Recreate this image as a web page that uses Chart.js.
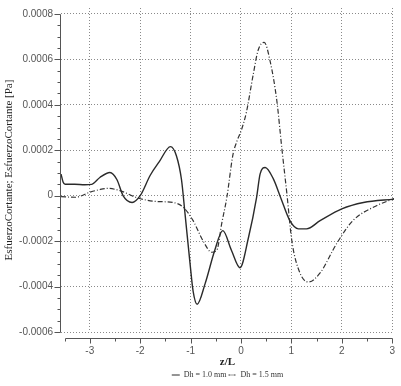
<!DOCTYPE html>
<html>
<head>
<meta charset="utf-8">
<script src="https://cdn.jsdelivr.net/npm/chart.js@4"></script>
<style>
  html, body { margin: 0; padding: 0; background: #ffffff; }
  #wrap { width: 401px; height: 386px; }
</style>
</head>
<body>
<div id="wrap"><canvas id="c" width="401" height="386"></canvas></div>
<script>
// ---- data ----
const solidLabel = 'Dh = 1.0 mm';
const dashedLabel = 'Dh = 1.5 mm';

const solidZ = [-3.57, -3.53, -3.49, -3.3, -3.1, -2.96, -2.8, -2.6, -2.46, -2.34, -2.16, -2.0, -1.8, -1.62, -1.4, -1.28, -1.18, -1.11, -1.01, -0.95, -0.87, -0.71, -0.52, -0.36, -0.19, -0.02, 0.15, 0.31, 0.38, 0.48, 0.64, 0.79, 0.97, 1.14, 1.30, 1.57, 2.0, 2.43, 3.04];
const solidVals = [0.000095, 0.00006, 0.00005, 0.00005, 0.000048, 0.00005, 0.00008, 0.000102, 0.00007, 0.0, -0.00003, 0.0, 0.00009, 0.00015, 0.000216, 0.000175, 0.00007, -0.00008, -0.0003, -0.00042, -0.000478, -0.000386, -0.00024, -0.000154, -0.00024, -0.000317, -0.000183, -0.000007, 0.000096, 0.000124, 0.000075, -0.00001, -0.00011, -0.000146, -0.000146, -0.00011, -0.000058, -0.00003, -0.000015];

const dashedZ = [-3.57, -3.29, -3.0, -2.8, -2.64, -2.4, -2.06, -1.71, -1.35, -1.15, -0.95, -0.75, -0.58, -0.48, -0.38, -0.28, -0.16, -0.08, 0.01, 0.11, 0.24, 0.34, 0.46, 0.58, 0.71, 0.81, 0.91, 1.01, 1.17, 1.34, 1.57, 1.90, 2.22, 2.69, 3.04];
const dashedVals = [-0.000004, -0.000007, 0.000015, 0.000027, 0.000032, 0.000022, -0.000009, -0.000025, -0.00003, -0.00005, -0.00011, -0.0002, -0.000249, -0.00024, -0.00012, -0.000007, 0.00018, 0.00024, 0.00029, 0.00037, 0.00053, 0.00064, 0.000675, 0.00059, 0.00042, 0.00021, 0.00001, -0.0002, -0.00034, -0.00038, -0.00034, -0.00021, -0.00011, -0.000044, -0.000013];

const xTickValues = [-3, -2, -1, 0, 1, 2, 3];
const xTickLabels = ['-3', '-2', '-1', '0', '1', '2', '3'];
const yTickValues = [0.0008, 0.0006, 0.0004, 0.0002, 0, -0.0002, -0.0004, -0.0006];
const yTickLabels = ['0.0008', '0.0006', '0.0004', '0.0002', '0', '-0.0002', '-0.0004', '-0.0006'];
const xMinorStep = 0.5;
const yMinorStep = 0.00005;
const xAxisFrom = -3.5, xAxisTo = 3;
const xMin = -3.571, xMax = 3.036;
const yMin = -0.0006, yMax = 0.000826;

const xTitle = 'z/L';
const yTitle = 'EsfuerzoCortante; EsfuerzoCortante [Pa]';

// ---- decorative axes drawn through the library scales ----
const axesDecor = {
  id: 'axesDecor',
  afterDraw(chart) {
    const ctx = chart.ctx;
    const xs = chart.scales.x, ys = chart.scales.y;
    const area = chart.chartArea;
    ctx.save();
    ctx.setLineDash([]);
    ctx.strokeStyle = '#555';
    ctx.lineWidth = 1;
    // y axis line
    const ax = Math.round(area.left) - 0.5;
    const yTop = ys.getPixelForValue(yTickValues[0]);
    const yBot = ys.getPixelForValue(yTickValues[yTickValues.length - 1]);
    ctx.beginPath();
    ctx.moveTo(ax, Math.round(yTop) + 0.5);
    ctx.lineTo(ax, Math.round(yBot) + 0.5);
    // y ticks (major + minor)
    const nMin = Math.round(yTickValues[yTickValues.length - 1] / yMinorStep);
    const nMax = Math.round(yTickValues[0] / yMinorStep);
    for (let i = nMin; i <= nMax; i++) {
      const v = i * yMinorStep;
      const py = Math.round(ys.getPixelForValue(v)) + 0.5;
      const major = (i % 4 === 0);
      ctx.moveTo(ax, py);
      ctx.lineTo(ax - (major ? 6 : 3), py);
    }
    // x axis line (offset below plot)
    const ay = Math.round(area.bottom) + 6.5;
    ctx.moveTo(Math.round(xs.getPixelForValue(xAxisFrom)) + 0.5, ay);
    ctx.lineTo(Math.round(xs.getPixelForValue(xAxisTo)) + 0.5, ay);
    const kMin = Math.round(xAxisFrom / xMinorStep), kMax = Math.round(xAxisTo / xMinorStep);
    for (let k = kMin; k <= kMax; k++) {
      const v = k * xMinorStep;
      const px = Math.round(xs.getPixelForValue(v)) + 0.5;
      const major = (k % 2 === 0);
      ctx.moveTo(px, ay);
      ctx.lineTo(px, ay + (major ? 5 : 3));
    }
    ctx.stroke();
    ctx.restore();
  }
};

const toPts = (xs, ys) => xs.map((x, i) => ({ x: x, y: ys[i] }));

const chart = new Chart(document.getElementById('c'), {
  type: 'line',
  data: {
    datasets: [
      {
        label: solidLabel,
        data: toPts(solidZ, solidVals),
        borderColor: '#2a2a2a',
        backgroundColor: '#2a2a2a',
        borderWidth: 1.4,
        pointRadius: 0,
        fill: false,
        cubicInterpolationMode: 'monotone'
      },
      {
        label: dashedLabel,
        data: toPts(dashedZ, dashedVals),
        borderColor: '#333333',
        backgroundColor: '#333333',
        borderWidth: 1.2,
        borderDash: [5, 2, 1, 2],
        pointRadius: 0,
        fill: false,
        cubicInterpolationMode: 'monotone'
      }
    ]
  },
  options: {
    responsive: false,
    animation: false,
    events: [],
    layout: { padding: { left: 0, right: 7, top: 8, bottom: 0 } },
    plugins: {
      tooltip: { enabled: false },
      legend: {
        display: true,
        position: 'bottom',
        fullSize: false,
        maxHeight: 17,
        labels: {
          font: { family: 'Liberation Serif', size: 8 },
          color: '#333',
          usePointStyle: true,
          pointStyle: 'line',
          pointStyleWidth: 8,
          padding: 2,
          generateLabels(chart) {
            const items = Chart.defaults.plugins.legend.labels.generateLabels(chart);
            items.forEach((it, i) => {
              it.lineWidth = 1;
              it.lineDash = i === 1 ? [2, 1, 1, 1] : [];
              it.pointStyle = 'line';
            });
            return items;
          }
        }
      }
    },
    scales: {
      x: {
        type: 'linear',
        min: xMin,
        max: xMax,
        afterBuildTicks(scale) { scale.ticks = xTickValues.map(v => ({ value: v })); },
        afterFit(scale) { scale.height = 37; },
        grid: { display: true, color: '#8a8a8a', lineWidth: 1, drawTicks: true, tickLength: 13, tickWidth: 0, tickColor: 'rgba(0,0,0,0)' },
        border: { display: false, dash: [1, 2] },
        ticks: {
          padding: 0,
          autoSkip: false,
          maxRotation: 0,
          font: { family: 'Liberation Sans', size: 10 },
          color: '#555',
          callback(v) { const i = xTickValues.indexOf(v); return i >= 0 ? xTickLabels[i] : ''; }
        },
        title: {
          display: true,
          text: xTitle,
          font: { family: 'Liberation Serif', size: 11, weight: 'bold' },
          color: '#222',
          padding: { top: 0, bottom: 0.4 }
        }
      },
      y: {
        type: 'linear',
        min: yMin,
        max: yMax,
        afterBuildTicks(scale) { scale.ticks = yTickValues.slice().reverse().map(v => ({ value: v })); },
        afterFit(scale) { scale.width = 61; },
        grid: { display: true, color: '#8a8a8a', lineWidth: 1, drawTicks: true, tickLength: 8, tickWidth: 0, tickColor: 'rgba(0,0,0,0)' },
        border: { display: false, dash: [1, 2] },
        ticks: {
          padding: 0,
          autoSkip: false,
          font: { family: 'Liberation Sans', size: 10 },
          color: '#555',
          callback(v) { const i = yTickValues.indexOf(v); return i >= 0 ? yTickLabels[i] : ''; }
        },
        title: {
          display: true,
          text: yTitle,
          font: { family: 'Liberation Serif', size: 11 },
          color: '#222',
          padding: { top: 3, bottom: 0 }
        }
      }
    }
  },
  plugins: [axesDecor]
});
</script>
</body>
</html>
